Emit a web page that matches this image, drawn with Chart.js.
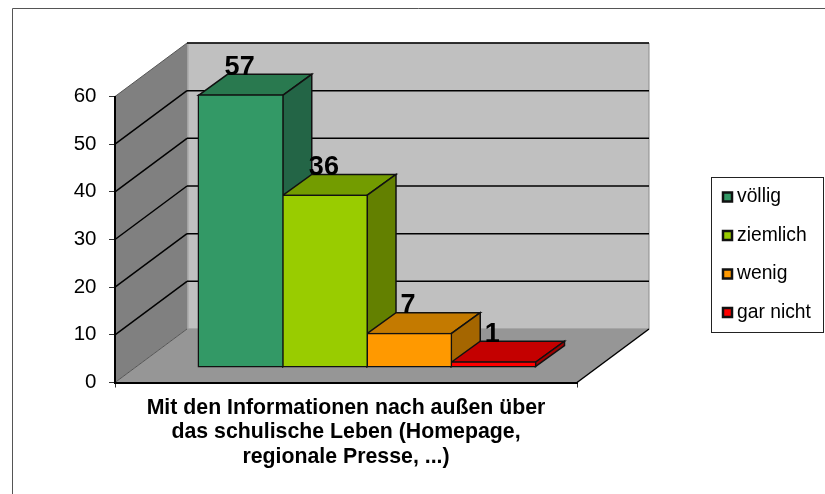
<!DOCTYPE html>
<html>
<head>
<meta charset="utf-8">
<style>html,body{margin:0;padding:0;background:#fff}canvas{display:block}</style>
<script src="https://cdn.jsdelivr.net/npm/chart.js@4"></script>
</head>
<body>
<canvas id="c" width="825" height="494"></canvas>
<script>
const categories = [["Mit den Informationen nach außen über", "das schulische Leben (Homepage,", "regionale Presse, ...)"]];
const seriesNames = ["völlig", "ziemlich", "wenig", "gar nicht"];
const seriesValues = [57, 36, 7, 1];
const frontColors = ["#339966", "#99cc00", "#ff9900", "#ff0000"];
const topColors = ["#29794f", "#739c00", "#c47a00", "#c40000"];
const sideColors = ["#236546", "#638000", "#a56600", "#a00000"];
const yTicks = [0, 10, 20, 30, 40, 50, 60];

const FONT = '"Liberation Sans", Arial, sans-serif';
const wall = {dx: 72, dy: -53.5};
const plane = {dx: 21, dy: -15.5};
const barDepth = {dx: 29, dy: -21};

function poly(ctx, pts, fill, stroke, lw) {
  ctx.beginPath();
  pts.forEach((p, i) => i ? ctx.lineTo(p[0], p[1]) : ctx.moveTo(p[0], p[1]));
  ctx.closePath();
  if (fill) { ctx.fillStyle = fill; ctx.fill(); }
  if (stroke) { ctx.strokeStyle = stroke; ctx.lineWidth = lw; ctx.stroke(); }
}
function seg(ctx, a, b, color, lw) {
  ctx.beginPath(); ctx.moveTo(a[0], a[1]); ctx.lineTo(b[0], b[1]);
  ctx.strokeStyle = color; ctx.lineWidth = lw; ctx.stroke();
}

const scene = {
  id: 'scene',
  beforeDraw(chart) {
    const {ctx, chartArea: a, scales: {y}} = chart;
    ctx.save();
    // outer frame
    ctx.beginPath(); ctx.moveTo(12.5, 494); ctx.lineTo(12.5, 8.5); ctx.lineTo(825, 8.5);
    ctx.strokeStyle = '#555'; ctx.lineWidth = 1; ctx.stroke();
    const T = y.getPixelForValue(60), B = y.getPixelForValue(0), L = a.left, R = a.right;
    const dx = wall.dx, dy = wall.dy;
    poly(ctx, [[L + dx, T + dy], [R + dx, T + dy], [R + dx, B + dy], [L + dx, B + dy]], '#c0c0c0', '#8c8c8c', 1);
    poly(ctx, [[L, T], [L + dx, T + dy], [L + dx, B + dy], [L, B]], '#808080');
    poly(ctx, [[L, B], [L + dx, B + dy], [R + dx, B + dy], [R, B]], '#969696');
    seg(ctx, [L + dx + 1, T + dy], [L + dx + 1, B + dy], '#a0a0a0', 1);
    yTicks.forEach(v => {
      const p = y.getPixelForValue(v);
      const diag = (v === 0 || v === 60) ? '#555' : '#000';
      seg(ctx, [L, p], [L + dx, p + dy], diag, v === 0 || v === 60 ? 1 : 1.5);
      if (v > 0) seg(ctx, [L + dx, p + dy], [R + dx, p + dy], '#000', 1.5);
    });
    seg(ctx, [R, B], [R + dx, B + dy], '#000', 1.5);
    // legend
    const box = {l: 711.5, t: 177.5, r: 823.5, b: 332.5};
    ctx.strokeStyle = '#222'; ctx.lineWidth = 1;
    ctx.strokeRect(box.l, box.t, box.r - box.l, box.b - box.t);
    const rows = [197, 235.5, 274, 312.5];
    ctx.font = '19.3px ' + FONT; ctx.textBaseline = 'middle'; ctx.textAlign = 'left';
    chart.data.datasets.forEach((d, i) => {
      ctx.fillStyle = d.backgroundColor;
      ctx.fillRect(723, rows[i] - 4.5, 9, 9);
      ctx.strokeStyle = '#111'; ctx.lineWidth = 2.5;
      ctx.strokeRect(723, rows[i] - 4.5, 9, 9);
      ctx.fillStyle = '#000';
      ctx.fillText(d.label, 737, rows[i]);
    });
    ctx.restore();
  },
  beforeDatasetsDraw(chart) {
    const {ctx} = chart;
    ctx.save();
    ctx.translate(plane.dx, plane.dy);
    const ddx = barDepth.dx, ddy = barDepth.dy;
    chart.data.datasets.forEach((d, i) => {
      const bar = chart.getDatasetMeta(i).data[0];
      const {x, y, base, width} = bar.getProps(['x', 'y', 'base', 'width'], true);
      const l = x - width / 2, r = x + width / 2;
      poly(ctx, [[l, y], [l + ddx, y + ddy], [r + ddx, y + ddy], [r, y]], topColors[i], '#111', 1.5);
      poly(ctx, [[r, y], [r + ddx, y + ddy], [r + ddx, base + ddy], [r, base]], sideColors[i], '#111', 1.5);
    });
  },
  afterDatasetsDraw(chart) {
    const {ctx} = chart;
    ctx.font = 'bold 27px ' + FONT;
    ctx.textAlign = 'center'; ctx.textBaseline = 'middle'; ctx.fillStyle = '#000';
    chart.data.datasets.forEach((d, i) => {
      const bar = chart.getDatasetMeta(i).data[0];
      const {x, y} = bar.getProps(['x', 'y'], true);
      ctx.fillText(String(d.data[0]), x - 1, y - 28);
    });
    ctx.restore();
  }
};

new Chart(document.getElementById('c'), {
  type: 'bar',
  data: {
    labels: categories,
    datasets: seriesNames.map((n, i) => ({
      label: n,
      data: [seriesValues[i]],
      backgroundColor: frontColors[i],
      borderColor: '#111',
      borderWidth: 1.5,
      inflateAmount: 1,
      borderSkipped: false,
      clip: false
    }))
  },
  options: {
    responsive: false,
    animation: false,
    layout: {padding: {left: 0, right: 248, top: 96.5, bottom: 0}},
    categoryPercentage: 0.7294,
    barPercentage: 1,
    plugins: {legend: {display: false}, tooltip: {enabled: false}, title: {display: false}},
    scales: {
      x: {
        afterFit(s) { s.height = 111.5; },
        grid: {offset: true, drawOnChartArea: false, drawTicks: true, tickLength: 5, color: '#333', lineWidth: 1},
        border: {display: true, color: '#000', width: 2},
        ticks: {
          color: '#000', maxRotation: 0, minRotation: 0, autoSkip: false, padding: 8,
          font: {family: FONT, size: 21.3, weight: 'bold', lineHeight: 1.15}
        }
      },
      y: {
        min: 0, max: 60,
        afterFit(s) { s.width = 115; },
        afterBuildTicks(s) { s.ticks = yTicks.map(v => ({value: v})); },
        grid: {drawOnChartArea: false, drawTicks: true, tickLength: 6, color: '#333', lineWidth: 1},
        border: {display: true, color: '#000', width: 2},
        ticks: {color: '#000', padding: 12.5, font: {family: FONT, size: 20.5}}
      }
    }
  },
  plugins: [scene]
});
</script>
</body>
</html>
